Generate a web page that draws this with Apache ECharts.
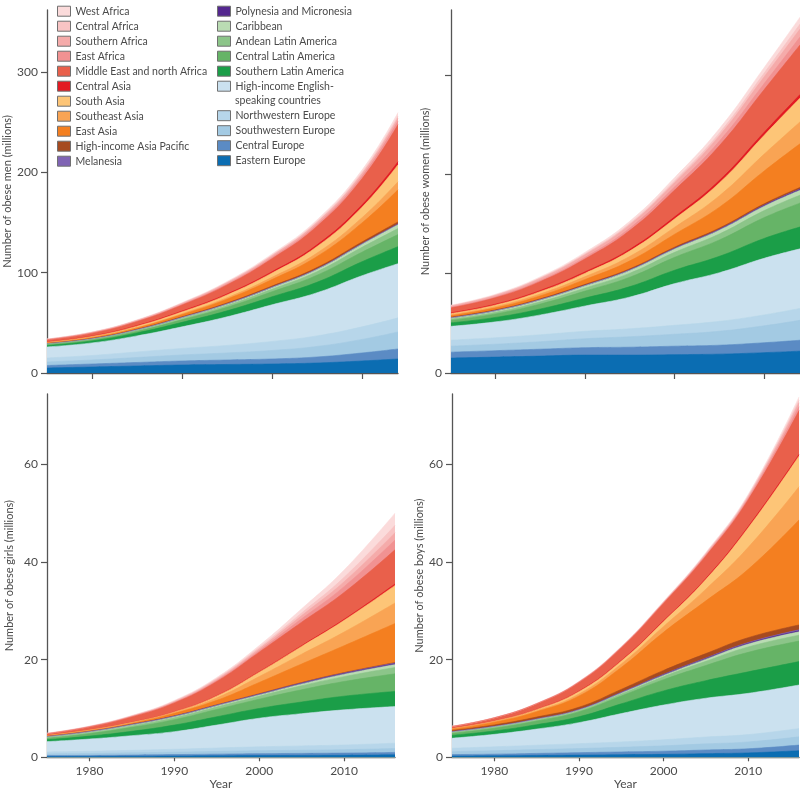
<!DOCTYPE html>
<html>
<head>
<meta charset="utf-8">
<script src="https://cdn.jsdelivr.net/npm/echarts@6/dist/echarts.min.js"></script>
<style>
html,body{margin:0;padding:0;background:#fff;}
#chart{width:800px;height:795px;}
</style>
</head>
<body>
<div id="chart"></div>
<script>
// ---------- DATA ----------
// Regions in stacking order (bottom -> top)
const regions = [
  'Eastern Europe', 'Central Europe', 'Southwestern Europe', 'Northwestern Europe',
  'High-income English-speaking countries', 'Southern Latin America', 'Central Latin America',
  'Andean Latin America', 'Caribbean', 'Polynesia and Micronesia', 'Melanesia',
  'High-income Asia Pacific', 'East Asia', 'Southeast Asia', 'South Asia', 'Central Asia',
  'Middle East and north Africa', 'East Africa', 'Southern Africa', 'Central Africa', 'West Africa'
];

const adultYears = [1975, 1980, 1985, 1990, 1995, 2000, 2005, 2010, 2014];
const childYears = [1975, 1980, 1985, 1990, 1995, 2000, 2005, 2010, 2016];

// Number of obese men (millions), one row per region (same order as regions)
const menValues = [
  [5, 6, 7, 8, 8.5, 9, 10, 12, 14],
  [2.5, 3, 3.5, 4, 4.5, 5, 6, 8, 10],
  [3.5, 4, 5, 6, 7, 8.5, 10.5, 13.5, 17],
  [4, 4.5, 5.5, 6.5, 7.5, 9, 10.5, 12.5, 14],
  [11, 12.5, 16, 21.5, 28.5, 36.5, 43, 51, 54],
  [1.5, 2, 3, 4.5, 6, 8, 10.5, 14, 17],
  [0.8, 1, 1.5, 2.5, 3.5, 5, 7, 9.5, 12],
  [0.4, 0.5, 0.8, 1.2, 1.8, 2.5, 3.5, 4.8, 6],
  [0.4, 0.5, 0.7, 1, 1.4, 1.8, 2.4, 3.2, 4],
  [0.05, 0.07, 0.09, 0.12, 0.15, 0.2, 0.25, 0.3, 0.4],
  [0.02, 0.03, 0.04, 0.06, 0.08, 0.1, 0.15, 0.2, 0.3],
  [0.3, 0.4, 0.5, 0.7, 0.9, 1.1, 1.4, 1.7, 2],
  [0.5, 0.8, 1.3, 2.2, 3.8, 6.5, 11, 19, 32],
  [0.3, 0.4, 0.6, 0.9, 1.4, 2.2, 3.4, 5.2, 8],
  [0.5, 0.8, 1.2, 1.8, 2.8, 4.3, 6.5, 10.5, 17],
  [0.3, 0.4, 0.6, 0.8, 1, 1.3, 1.7, 2.3, 3],
  [2, 2.8, 4, 6, 9, 13, 18.5, 26, 37],
  [0.2, 0.3, 0.4, 0.6, 0.9, 1.3, 1.8, 2.5, 3.5],
  [0.4, 0.5, 0.7, 0.9, 1.2, 1.5, 1.9, 2.4, 3],
  [0.1, 0.15, 0.2, 0.3, 0.4, 0.6, 0.9, 1.3, 2],
  [0.2, 0.3, 0.4, 0.6, 0.9, 1.3, 1.8, 2.5, 3.5]
];

// Number of obese women (millions)
const womenValues = [
  [15, 16, 17, 18, 18, 18.5, 19, 20.5, 22],
  [6, 6.5, 7, 7.5, 8, 8.5, 9, 10, 11],
  [6, 6.5, 7.5, 9, 10.5, 12, 14, 17, 20],
  [6, 6.5, 7, 7.5, 8, 9, 10, 11, 12],
  [14, 16, 20, 25.5, 32, 42, 49, 57, 60],
  [3.5, 4.5, 6, 8, 10.5, 13.5, 16.5, 20, 22],
  [2.5, 3.5, 5, 7, 9.5, 13, 16.5, 21, 24],
  [1.2, 1.6, 2.2, 3, 4, 5, 6, 7, 8],
  [1.3, 1.6, 2, 2.5, 3, 3.5, 4, 4.5, 5],
  [0.1, 0.13, 0.17, 0.22, 0.3, 0.4, 0.5, 0.65, 0.8],
  [0.05, 0.07, 0.1, 0.13, 0.18, 0.24, 0.3, 0.4, 0.5],
  [0.6, 0.7, 0.8, 0.9, 1, 1.1, 1.2, 1.35, 1.5],
  [1.5, 2, 3, 5, 8, 13, 21, 33, 44],
  [1, 1.3, 1.9, 2.8, 4.5, 7, 11.5, 17, 22],
  [1.2, 1.6, 2.4, 3.5, 5.5, 8.5, 13, 19, 24],
  [0.7, 0.9, 1.1, 1.4, 1.7, 2, 2.5, 3, 3.5],
  [5, 6.5, 9, 13, 19, 27, 35, 43, 50],
  [0.6, 0.8, 1.1, 1.6, 2.3, 3.2, 4.5, 6, 8],
  [1.2, 1.5, 2, 2.6, 3.4, 4.3, 5.5, 6.8, 8],
  [0.3, 0.4, 0.6, 0.9, 1.3, 1.9, 2.7, 3.8, 5],
  [0.6, 0.8, 1.1, 1.6, 2.3, 3.2, 4.4, 5.6, 7]
];

// Number of obese girls (millions)
const girlsValues = [
  [0.15, 0.17, 0.2, 0.25, 0.3, 0.35, 0.38, 0.42, 0.5],
  [0.2, 0.22, 0.26, 0.3, 0.35, 0.4, 0.42, 0.45, 0.5],
  [0.35, 0.4, 0.45, 0.5, 0.55, 0.6, 0.65, 0.7, 0.8],
  [0.4, 0.45, 0.52, 0.6, 0.7, 0.8, 0.88, 0.95, 1.1],
  [2.1, 2.5, 3.0, 3.6, 4.7, 5.85, 6.6, 7.2, 7.5],
  [0.4, 0.6, 0.9, 1.35, 1.7, 2.0, 2.4, 2.8, 3.1],
  [0.3, 0.5, 0.8, 1.1, 1.5, 1.9, 2.5, 3.0, 3.6],
  [0.15, 0.2, 0.3, 0.4, 0.5, 0.6, 0.8, 1.0, 1.3],
  [0.15, 0.18, 0.22, 0.25, 0.28, 0.3, 0.4, 0.5, 0.6],
  [0.02, 0.03, 0.04, 0.05, 0.06, 0.08, 0.1, 0.12, 0.15],
  [0.02, 0.03, 0.03, 0.04, 0.05, 0.07, 0.1, 0.12, 0.15],
  [0.05, 0.05, 0.055, 0.06, 0.07, 0.08, 0.085, 0.09, 0.1],
  [0.1, 0.12, 0.18, 0.5, 0.9, 2.3, 3.8, 5.5, 8],
  [0.05, 0.07, 0.1, 0.15, 0.5, 1.2, 2, 2.8, 4.2],
  [0.05, 0.07, 0.1, 0.15, 0.4, 0.9, 1.6, 2.4, 3.6],
  [0.02, 0.02, 0.03, 0.04, 0.07, 0.1, 0.15, 0.2, 0.3],
  [0.3, 0.6, 1.1, 1.8, 2.9, 4, 4.8, 5.5, 7],
  [0.03, 0.04, 0.07, 0.12, 0.2, 0.3, 0.7, 1.2, 2],
  [0.03, 0.05, 0.08, 0.14, 0.22, 0.35, 0.65, 1.0, 1.5],
  [0.03, 0.04, 0.06, 0.1, 0.17, 0.3, 0.55, 0.9, 1.5],
  [0.03, 0.05, 0.07, 0.14, 0.22, 0.4, 0.85, 1.5, 2.5]
];

// Number of obese boys (millions)
const boysValues = [
  [0.25, 0.3, 0.38, 0.45, 0.52, 0.6, 0.75, 0.9, 1.35],
  [0.3, 0.35, 0.42, 0.5, 0.58, 0.65, 0.75, 0.85, 1.15],
  [0.6, 0.7, 0.78, 0.85, 0.95, 1.1, 1.25, 1.4, 1.7],
  [0.7, 0.8, 0.9, 1.0, 1.1, 1.25, 1.4, 1.5, 1.7],
  [2.05, 2.55, 3.3, 4.3, 5.8, 7.1, 7.95, 8.45, 8.9],
  [0.6, 0.7, 0.9, 1.2, 2.0, 2.9, 3.6, 4.4, 4.8],
  [0.4, 0.55, 0.75, 1.0, 1.6, 2.3, 3.1, 4.0, 4.2],
  [0.15, 0.18, 0.2, 0.25, 0.4, 0.6, 0.85, 1.1, 1.2],
  [0.15, 0.15, 0.15, 0.15, 0.22, 0.3, 0.45, 0.6, 0.7],
  [0.03, 0.03, 0.04, 0.05, 0.07, 0.1, 0.12, 0.15, 0.2],
  [0.03, 0.03, 0.04, 0.05, 0.07, 0.1, 0.12, 0.15, 0.2],
  [0.25, 0.3, 0.38, 0.45, 0.6, 0.8, 0.9, 1.0, 1.0],
  [0.25, 0.55, 1.1, 2.3, 4.5, 7.8, 10.8, 14, 21.5],
  [0.08, 0.12, 0.2, 0.4, 0.7, 1.2, 2.4, 4.5, 6.8],
  [0.08, 0.12, 0.25, 0.5, 0.6, 1.0, 2.0, 4.0, 6.3],
  [0.02, 0.03, 0.05, 0.1, 0.12, 0.15, 0.2, 0.25, 0.3],
  [0.35, 0.6, 1.1, 1.8, 2.6, 3.6, 4.6, 5.5, 9],
  [0.02, 0.02, 0.03, 0.05, 0.07, 0.1, 0.2, 0.3, 0.8],
  [0.02, 0.02, 0.03, 0.05, 0.07, 0.1, 0.2, 0.3, 0.8],
  [0.02, 0.02, 0.03, 0.04, 0.05, 0.08, 0.12, 0.2, 0.5],
  [0.02, 0.02, 0.03, 0.05, 0.07, 0.1, 0.2, 0.3, 0.7]
];

const adultYTicks = [0, 100, 200, 300];
const childYTicks = [0, 20, 40, 60];
const xTicks = [1980, 1990, 2000, 2010];

// ---------- STYLE ----------
const colors = [
  '#0b6db2', '#5b8bc4', '#a3cae3', '#b7d6ea', '#cbe1ef',
  '#1b9e48', '#66b467', '#8cc589', '#badcb3', '#54278f', '#8064b4',
  '#a64a1f', '#f47f20', '#f9a454', '#fdc577', '#e31b23',
  '#e9604b', '#f19292', '#f5abaa', '#f8c4c4', '#fbdbdb'
];
const FONT = 'Lato';
const TXT = '#4a4a4a';
const AX = '#555';

const leftLegend = ['West Africa', 'Central Africa', 'Southern Africa', 'East Africa',
  'Middle East and north Africa', 'Central Asia', 'South Asia', 'Southeast Asia', 'East Asia',
  'High-income Asia Pacific', 'Melanesia'];
const rightLegendA = ['Polynesia and Micronesia', 'Caribbean', 'Andean Latin America',
  'Central Latin America', 'Southern Latin America', 'High-income English-speaking countries'];
const rightLegendB = ['Northwestern Europe', 'Southwestern Europe', 'Central Europe', 'Eastern Europe'];

const panels = [
  {years: adultYears, values: menValues, name: 'Number of obese men (millions)', max: 362,
   yticks: adultYTicks, ylabels: adultYTicks, xlabels: false, nameGap: 34},
  {years: adultYears, values: womenValues, name: 'Number of obese women (millions)', max: 365.5,
   yticks: adultYTicks, ylabels: [0], xlabels: false, nameGap: 13},
  {years: childYears, values: girlsValues, name: 'Number of obese girls (millions)', max: 74.4,
   yticks: childYTicks, ylabels: childYTicks, xlabels: true, nameGap: 32},
  {years: childYears, values: boysValues, name: 'Number of obese boys (millions)', max: 74.4,
   yticks: childYTicks, ylabels: childYTicks, xlabels: true, nameGap: 27}
];

const grids = [
  {left: 47, top: 10, width: 351, height: 363},
  {left: 451, top: 10, width: 349, height: 363},
  {left: 47, top: 394, width: 348, height: 363.3},
  {left: 452, top: 394, width: 347, height: 363.3}
];

const xAxes = panels.map((p, i) => ({
  type: 'value', gridIndex: i, min: p.years[0], max: p.years[p.years.length - 1],
  splitLine: {show: false},
  axisLine: {show: true, lineStyle: {color: AX, width: 1.3}},
  axisTick: {show: true, length: p.xlabels ? 4 : 6, lineStyle: {color: AX, width: 1.2}, customValues: xTicks},
  axisLabel: {show: p.xlabels, customValues: xTicks, margin: 8, fontSize: 12, color: TXT, fontFamily: FONT,
    formatter: v => String(v)},
  name: p.xlabels ? 'Year' : '', nameLocation: 'middle', nameGap: 19,
  nameTextStyle: {fontSize: 12, color: TXT, fontFamily: FONT}
}));

const yAxes = panels.map((p, i) => ({
  type: 'value', gridIndex: i, min: 0, max: p.max,
  splitLine: {show: false},
  axisLine: {show: true, lineStyle: {color: AX, width: 1.3}},
  axisTick: {show: true, length: 6, lineStyle: {color: AX, width: 1.2}, customValues: p.yticks},
  axisLabel: {show: true, customValues: p.ylabels, margin: 9, fontSize: 12, color: TXT, fontFamily: FONT,
    formatter: v => String(v)},
  name: p.name, nameLocation: 'middle', nameGap: p.nameGap,
  nameTextStyle: {fontSize: 11, color: TXT, fontFamily: FONT}
}));

// running totals of the rows (each region's upper boundary in the stack)
function runningTotals(rows) {
  const out = [];
  let run = rows[0].map(() => 0);
  rows.forEach(row => {
    run = run.map((s, k) => s + row[k]);
    out.push(run.slice());
  });
  return out;
}

const series = [];
panels.forEach((p, pi) => {
  const tops = runningTotals(p.values);
  // draw from the top band down so each lower band covers the ones above it
  for (let ri = regions.length - 1; ri >= 0; ri--) {
    series.push({
      type: 'line', name: regions[ri], xAxisIndex: pi, yAxisIndex: pi,
      data: p.years.map((y, k) => [y, tops[ri][k]]),
      smooth: 0.45, symbol: 'none', showSymbol: false,
      lineStyle: {width: 0.6, color: colors[ri]},
      itemStyle: {color: colors[ri]},
      areaStyle: {color: colors[ri], opacity: 1, origin: 'start'},
      emphasis: {disabled: true}, silent: true
    });
  }
});

const legendBase = {
  orient: 'vertical', icon: 'rect', itemWidth: 13, itemHeight: 10, itemGap: 4, padding: 0,
  selectedMode: false,
  textStyle: {fontSize: 10.5, lineHeight: 10, color: TXT, fontFamily: FONT},
  itemStyle: {borderColor: '#707070', borderWidth: 1}
};

const option = {
  backgroundColor: '#fff',
  animation: false,
  grid: grids,
  xAxis: xAxes,
  yAxis: yAxes,
  legend: [
    Object.assign({}, legendBase, {data: leftLegend, left: 57, top: 5.7}),
    Object.assign({}, legendBase, {data: rightLegendA, left: 217, top: 5.7,
      formatter: n => n === 'High-income English-speaking countries' ? 'High-income English-' : n}),
    Object.assign({}, legendBase, {data: rightLegendB, left: 217, top: 110.2})
  ],
  graphic: [{
    type: 'text', x: 235, y: 100.5,
    style: {text: 'speaking countries', fontSize: 10.5, fontFamily: FONT, fill: TXT, verticalAlign: 'middle'}
  }],
  series: series
};

const chart = echarts.init(document.getElementById('chart'), null, {renderer: 'canvas'});
chart.setOption(option);
</script>
</body>
</html>
